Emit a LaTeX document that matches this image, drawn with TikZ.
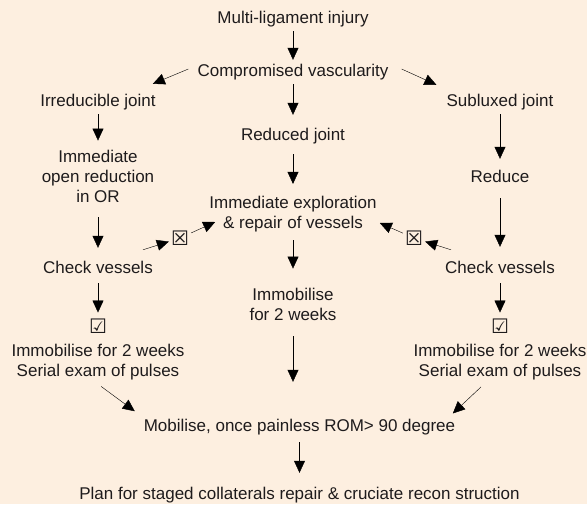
\documentclass[tikz,border=0pt]{standalone}
\usepackage{fontspec}
\setmainfont{Liberation Sans}
\newfontfamily\symfont{DejaVu Sans}
\usetikzlibrary{positioning, arrows.meta}
\definecolor{ink}{RGB}{30,27,28}
\definecolor{paper}{RGB}{253,239,224}
\tikzset{
    ->, % every connector is an arrow
    >={Stealth[length=12pt, width=11pt, inset=0pt]}, % heavy arrow heads
    line width=2.6pt, % thick connectors
    color=ink, % dark text and lines
    every node/.style={inner sep=4pt, font=\fontsize{17}{20}\selectfont}, % plain text labels
    txt/.style={text height=12pt, text depth=4pt}, % one-line labels
    blk/.style={align=center}, % labels over several lines
    sym/.style={inner sep=2pt, font=\symfont\fontsize{20}{20}\selectfont}, % ballot boxes
    node distance=60pt, % changed per node below
}
\begin{document}
\begin{tikzpicture}[x=1pt, y=-1pt]
\fill[paper, -] (0,0) rectangle (587,504);
\useasboundingbox (0,0) rectangle (587,504);
% middle column
\node[txt] (inj) at (293,19) {Multi-ligament injury};
\node[txt, below of=inj, node distance=53pt] (vasc) {Compromised vascularity};
\node[txt, below of=vasc, node distance=64pt] (red) {Reduced joint};
\node[blk, below of=red, node distance=78pt] (expl) {Immediate exploration\\\& repair of vessels};
\node[blk, below of=expl, node distance=90pt] (immC) {Immobilise\\for 2 weeks};
\node[txt] (mob) at (299.5,427) {Mobilise, once painless ROM> 90 degree};
\node[txt, below of=mob, node distance=68pt] (plan) {Plan for staged collaterals repair \& cruciate recon struction};
% left column
\node[txt] (irr) at (98,102) {Irreducible joint};
\node[blk, below of=irr, node distance=74pt] (open) {Immediate\\open reduction\\in OR};
\node[txt, below of=open, node distance=93pt] (chkL) {Check vessels};
\node[sym, below of=chkL, node distance=57pt] (tickL) {☑};
\node[blk, below of=tickL, node distance=36pt] (immL) {Immobilise for 2 weeks\\Serial exam of pulses};
% right column
\node[txt] (sub) at (500,102) {Subluxed joint};
\node[txt, below of=sub, node distance=76pt] (reduce) {Reduce};
\node[txt, below of=reduce, node distance=91pt] (chkR) {Check vessels};
\node[sym, below of=chkR, node distance=57pt] (tickR) {☑};
\node[blk, below of=tickR, node distance=36pt] (immR) {Immobilise for 2 weeks\\Serial exam of pulses};
% failed checks
\node[sym] (xL) at (180,238) {☒};
\node[sym] (xR) at (414,238) {☒};
\path (inj) edge (vasc)
      (vasc) edge[shorten >=9pt] (red)
      (red) edge[shorten <=6pt, shorten >=8pt] (expl)
      (expl) edge[shorten <=4pt, shorten >=15pt] (immC)
      (immC) edge[shorten <=12pt, shorten >=33pt] (immC |- mob.north)
      (mob) edge[shorten <=3pt, shorten >=10pt] (plan)
      ([xshift=-5pt, yshift=3pt]vasc.west) edge ([xshift=-7pt, yshift=6pt]irr.north east)
      ([xshift=9pt, yshift=3pt]vasc.east) edge ([xshift=-6pt, yshift=5pt]sub.north west)
      (irr) edge[shorten >=5pt] (open)
      (open) edge[shorten <=11pt, shorten >=9pt] (chkL)
      (chkL) edge[shorten <=2pt, shorten >=4pt] (tickL)
      (sub) edge[shorten >=7pt] (reduce)
      (reduce) edge[shorten <=8pt, shorten >=10pt] (chkR)
      (chkR) edge[shorten <=2pt, shorten >=4pt] (tickR)
      ([xshift=-14pt, yshift=7pt]chkL.north east) edge (xL)
      (xL) edge ([xshift=10pt, yshift=-8pt]expl.west)
      ([xshift=10pt, yshift=7pt]chkR.north west) edge (xR)
      (xR) edge ([xshift=-1pt, yshift=-9pt]expl.east)
      (immL.south) edge[shorten <=4pt, shorten >=6pt] (mob.north west)
      ([xshift=-16pt]immR.south) edge[shorten <=4pt, shorten >=2pt] ([xshift=-8pt]mob.north east);
\end{tikzpicture}
\end{document}
